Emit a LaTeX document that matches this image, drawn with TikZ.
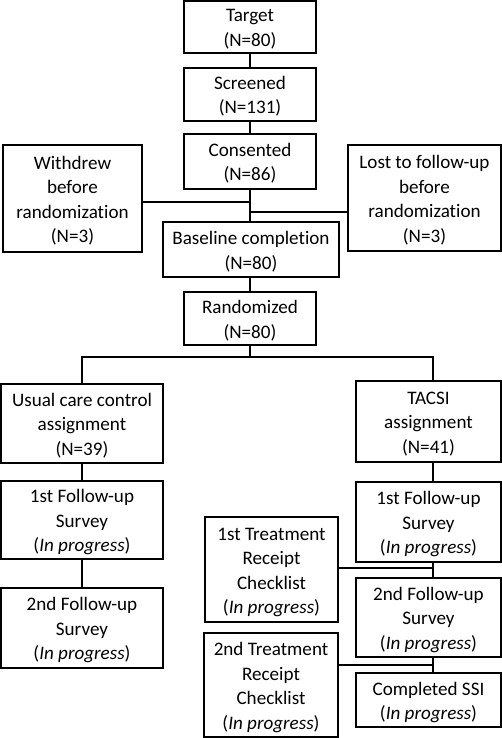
\documentclass[tikz,border=0pt]{standalone}
\usepackage{fontspec}
\setmainfont[Ligatures={NoCommon,NoContextual}]{Carlito}
\begin{document}
\begin{tikzpicture}[x=1pt,y=-1pt,
  box/.style={draw=black,line width=1.2pt,fill=white,inner sep=0pt,align=center,
    font=\fontsize{19.1}{24.5}\selectfont,text depth=5pt},
  two/.style={box,text height=44pt},
  three/.style={box,text height=68.5pt},
  four/.style={box,text height=93pt},
  conn/.style={draw=black,line width=1.2pt}]
\useasboundingbox (0,0) rectangle (502,738);
\node[two,minimum width=132,minimum height=52] (target) at (250,27) {Target\\(N=80)};
\node[two,minimum width=132,minimum height=53] (screened) at (250,94.5) {Screened\\(N=131)};
\node[two,minimum width=132,minimum height=55] (consented) at (250,161.5) {Consented\\(N=86)};
\node[four,minimum width=139,minimum height=107] (withdrew) at (72.5,198.5) {Withdrew\\before\\randomization\\(N=3)};
\node[four,minimum width=153,minimum height=106] (lost) at (424.5,198) {Lost to follow-up\\before\\randomization\\(N=3)};
\node[two,minimum width=176,minimum height=55] (baseline) at (251,249.5) {Baseline completion\\(N=80)};
\node[two,minimum width=132,minimum height=53] (randomized) at (250,318.5) {Randomized\\(N=80)};
\node[three,minimum width=162,minimum height=79] (usual) at (82,423.5) {Usual care control\\assignment\\(N=39)};
\node[three,minimum width=145,minimum height=81] (tacsi) at (428.5,421.5) {TACSI\\assignment\\(N=41)};
\node[three,minimum width=162,minimum height=78] (fuL1) at (82,520) {1st Follow-up\\Survey\\(\textit{In progress})};
\node[three,minimum width=162,minimum height=80] (fuL2) at (82,628) {2nd Follow-up\\Survey\\(\textit{In progress})};
\node[three,minimum width=145,minimum height=80] (fuR1) at (428.5,522) {1st Follow-up\\Survey\\(\textit{In progress})};
\node[four,minimum width=133,minimum height=105] (tr1) at (271.5,569.5) {1st Treatment\\Receipt\\Checklist\\(\textit{In progress})};
\node[three,minimum width=145,minimum height=79] (fuR2) at (428.5,617.5) {2nd Follow-up\\Survey\\(\textit{In progress})};
\node[four,minimum width=134,minimum height=104] (tr2) at (271,685) {2nd Treatment\\Receipt\\Checklist\\(\textit{In progress})};
\node[two,minimum width=145,minimum height=54] (ssi) at (428.5,700) {Completed SSI\\(\textit{In progress})};

\coordinate (jw) at (250,202);
\coordinate (jl) at (250,212);
\coordinate (br) at (250,357);
\coordinate (brL) at (82,357);
\coordinate (brR) at (433,357);
\coordinate (j1) at (433,568);
\coordinate (j2) at (433,665);

\draw[conn] (target.south) -- (screened.north);
\draw[conn] (screened.south) -- (consented.north);
\draw[conn] (consented.south) -- (consented.south |- baseline.north);
\draw[conn] (jw) -- (jw -| withdrew.east);
\draw[conn] (jl) -- (jl -| lost.west);
\draw[conn] (baseline.south -| br) -- (randomized.north -| br);
\draw[conn] (randomized.south -| br) -- (br);
\draw[conn] (usual.north -| brL) -- (brL) -- (brR) -- (brR |- tacsi.north);
\draw[conn] (usual.south -| brL) -- (fuL1.north -| brL);
\draw[conn] (fuL1.south -| brL) -- (fuL2.north -| brL);
\draw[conn] (tacsi.south -| brR) -- (fuR1.north -| brR);
\draw[conn] (fuR1.south -| brR) -- (fuR2.north -| brR);
\draw[conn] (fuR2.south -| brR) -- (ssi.north -| brR);
\draw[conn] (j1 -| tr1.east) -- (j1);
\draw[conn] (j2 -| tr2.east) -- (j2);
\end{tikzpicture}
\end{document}
